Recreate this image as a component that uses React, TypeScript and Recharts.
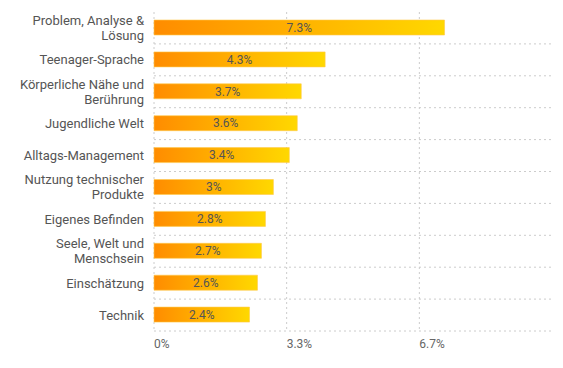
import React from 'react';
import { BarChart, Bar, XAxis, YAxis, CartesianGrid, LabelList } from 'recharts';

const categories = [
  'Problem, Analyse & Lösung',
  'Teenager-Sprache',
  'Körperliche Nähe und Berührung',
  'Jugendliche Welt',
  'Alltags-Management',
  'Nutzung technischer Produkte',
  'Eigenes Befinden',
  'Seele, Welt und Menschsein',
  'Einschätzung',
  'Technik',
];

const shares = [7.3, 4.3, 3.7, 3.6, 3.4, 3, 2.8, 2.7, 2.6, 2.4];

const xTicks = [0, 3.333, 6.667];
const xMax = 10;

const data = categories.map((name, i) => ({ name, value: shares[i] }));

// greedy word wrap, about 20 characters a line
const wrap = (s: string, max = 20) => {
  const lines: string[] = [];
  let cur = '';
  s.split(' ').forEach((w) => {
    const next = cur ? `${cur} ${w}` : w;
    if (next.length > max && cur) {
      lines.push(cur);
      cur = w;
    } else {
      cur = next;
    }
  });
  if (cur) lines.push(cur);
  return lines;
};

const CategoryTick = (props: any) => {
  const { x, y, payload } = props;
  const lines = wrap(String(payload.value));
  const lh = 15;
  const first = -((lines.length - 1) * lh) / 2;
  return (
    <text x={x} y={y} textAnchor="end" fill="#555" fontSize={13} fontFamily="Roboto, sans-serif">
      {lines.map((l, i) => (
        <tspan key={i} x={x} dy={i === 0 ? first + 4.5 : lh}>
          {l}
        </tspan>
      ))}
    </text>
  );
};

const fmtTick = (v: number) => (v === 0 ? '0%' : `${v.toFixed(1)}%`);

const App: React.FC = () => {
  return (
    <div style={{ position: 'absolute', left: 0, top: 0, fontFamily: 'Roboto, sans-serif' }}>
      <BarChart
        width={563}
        height={368}
        data={data}
        layout="vertical"
        margin={{ top: 12, right: 11, bottom: 0, left: 0 }}
      >
        <defs>
          <linearGradient id="barFill" x1="0" y1="0" x2="1" y2="0">
            <stop offset="0%" stopColor="#FF8C00" />
            <stop offset="100%" stopColor="#FFD800" />
          </linearGradient>
        </defs>
        <CartesianGrid
          stroke="#ccc"
          strokeDasharray="2 3"
          horizontalCoordinatesGenerator={({ offset }: any) => {
            const step = offset.height / categories.length;
            return categories.map((_, i) => offset.top + step * (i + 1));
          }}
          verticalCoordinatesGenerator={({ xAxis, offset }: any) =>
            xTicks.map((t) =>
              typeof xAxis?.scale === 'function'
                ? xAxis.scale(t)
                : offset.left + (offset.width * t) / xMax
            )
          }
        />
        <XAxis
          type="number"
          domain={[0, xMax]}
          ticks={xTicks}
          tickFormatter={fmtTick}
          axisLine={false}
          tickLine={false}
          height={37}
          tick={{ textAnchor: 'start', fill: '#666', fontSize: 12 }}
        />
        <YAxis
          type="category"
          dataKey="name"
          width={154}
          axisLine={false}
          tickLine={false}
          tickMargin={4}
          interval={0}
          tick={<CategoryTick />}
        />
        <Bar
          dataKey="value"
          fill="url(#barFill)"
          barSize={15}
          stroke="#FFC94D"
          strokeOpacity={0.6}
          isAnimationActive={false}
        >
          <LabelList
            dataKey="value"
            position="center"
            formatter={(v: any) => `${v}%`}
            fill="#555"
            fontSize={12}
          />
        </Bar>
      </BarChart>
    </div>
  );
};

export default App;
